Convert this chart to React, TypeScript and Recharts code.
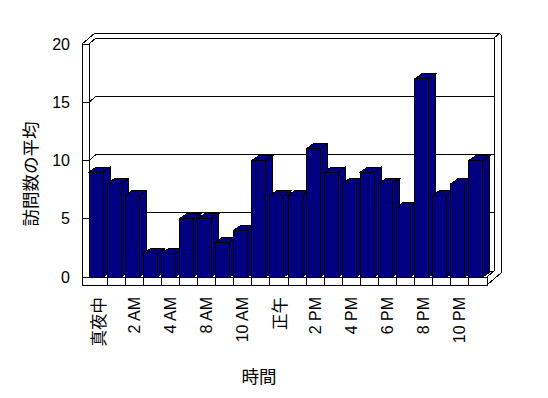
import { BarChart, Bar, XAxis, YAxis, CartesianGrid, ReferenceArea } from "recharts";

const hours = [
  "真夜中", "1 AM", "2 AM", "3 AM", "4 AM", "6 AM", "8 AM", "9 AM", "10 AM", "11 AM", "正午",
  "1 PM", "2 PM", "3 PM", "4 PM", "5 PM", "6 PM", "7 PM", "8 PM", "9 PM", "10 PM", "11 PM",
];
const avgVisits = [9, 8, 7, 2, 2, 5, 5, 3, 4, 10, 7, 7, 11, 9, 8, 9, 8, 6, 17, 7, 8, 10];
const yTicks = [0, 5, 10, 15, 20];

const data = hours.map((hour, i) => ({ hour, visits: avgVisits[i] }));

const NAVY = "#000080";
const LATIN = "'Liberation Sans', Arial, sans-serif";
const CJK = "'Noto Sans CJK JP', sans-serif";
// depth of the walls and of the boxes
const WD = 7;
const WE = 6;
const BD = 7;
const BE = 5;

const isCjk = (s: string) => /[^\x00-\x7f]/.test(s);

const Box3D = (props: any) => {
  const { x, y, width, height, index } = props;
  const w = width - 4;
  const bottom = y + height;
  return (
    <g shapeRendering="crispEdges">
      {index > 0 && <line x1={x} y1={bottom} x2={x} y2={bottom + 8} stroke="#000" />}
      <rect x={x} y={y} width={w} height={height} fill={NAVY} stroke="#000" />
      <polygon
        points={`${x},${y} ${x + BD},${y - BE} ${x + w + BD},${y - BE} ${x + w},${y}`}
        fill={NAVY}
        stroke="#000"
      />
      <polygon
        points={`${x + w},${y} ${x + w + BD},${y - BE} ${x + w + BD},${bottom - BE} ${x + w},${bottom}`}
        fill={NAVY}
        stroke="#000"
      />
    </g>
  );
};

// left wall, back wall rim, floor outline
const Walls = (props: any) => {
  const { x, y, width, height } = props;
  const r = x + width;
  const b = y + height;
  const s = { stroke: "#000", fill: "none" };
  return (
    <g shapeRendering="crispEdges">
      <line x1={x - WD} y1={y} x2={x - WD} y2={b + 8} {...s} />
      <line x1={x} y1={y} x2={x} y2={b} {...s} />
      <line x1={x - WD} y1={y} x2={x + 6} y2={y - 11} {...s} />
      <line x1={x + 6} y1={y - 11} x2={r + 12} y2={y - 11} {...s} />
      <line x1={r + 12} y1={y - 11} x2={r + 14} y2={y - 9} {...s} />
      <line x1={r + 14} y1={y - 9} x2={r + 14} y2={b - 4} {...s} />
      <line x1={r + WD} y1={y - WE} x2={r + 13} y2={y - 11} {...s} />
      <line x1={r + WD} y1={y - WE} x2={r + WD} y2={b - WE} {...s} />
      <line x1={r} y1={b} x2={r + WD} y2={b - WE} {...s} />
      <line x1={r} y1={b + 8} x2={r + 14} y2={b - 4} {...s} />
      <rect x={x - WD} y={b} width={width + WD} height={8} {...s} />
    </g>
  );
};

const GridLine = (props: any) => {
  const { x1, y1, x2 } = props;
  return (
    <g key={`g-${y1}`} shapeRendering="crispEdges">
      <line x1={x1 - WD} y1={y1} x2={x1} y2={y1} stroke="#000" />
      <line x1={x1} y1={y1} x2={x1 + WD} y2={y1 - WE} stroke="#000" />
      <line x1={x1 + WD} y1={y1 - WE} x2={x2 + WD} y2={y1 - WE} stroke="#000" />
    </g>
  );
};

const HourTick = (props: any) => {
  const { x, y, payload } = props;
  const v = String(payload.value);
  const cjk = isCjk(v);
  return (
    <text
      transform={`translate(${x},${y}) rotate(-90)`}
      textAnchor="end"
      dominantBaseline="central"
      fontFamily={cjk ? CJK : LATIN}
      fontSize={cjk ? 16.5 : 16}
      fill="#000"
      style={{ fill: "#000" }}
    >
      {v}
    </text>
  );
};

export default function App() {
  return (
    <div style={{ width: 548, height: 398, margin: -8, background: "#fff" }}>
      <BarChart
        width={548}
        height={398}
        data={data}
        margin={{ top: 44, right: 61, left: 0, bottom: 0 }}
        barCategoryGap={0}
      >
        <CartesianGrid vertical={false} horizontal={GridLine} />
        <ReferenceArea y1={0} y2={20} shape={Walls} />
        <XAxis
          dataKey="hour"
          interval={1}
          height={121}
          axisLine={false}
          tickLine={false}
          tickSize={0}
          tickMargin={20}
          tick={HourTick}
          label={{
            content: () => (
              <text x={259} y={375} textAnchor="middle" dominantBaseline="central" fontFamily={CJK} fontSize={17.5} fill="#000">
                時間
              </text>
            ),
          }}
        />
        <YAxis
          domain={[0, 20]}
          ticks={yTicks}
          width={89}
          axisLine={false}
          tickLine={false}
          tickSize={0}
          tickMargin={19}
          tick={{ fill: "#000", fontSize: 16, fontFamily: LATIN }}
          label={{
            content: () => (
              <text
                transform="translate(29,174) rotate(-90)"
                textAnchor="middle"
                dominantBaseline="central"
                fontFamily={CJK}
                fontSize={17.5}
                fill="#000"
              >
                訪問数の平均
              </text>
            ),
          }}
        />
        <Bar dataKey="visits" shape={Box3D} isAnimationActive={false} />
      </BarChart>
    </div>
  );
}
